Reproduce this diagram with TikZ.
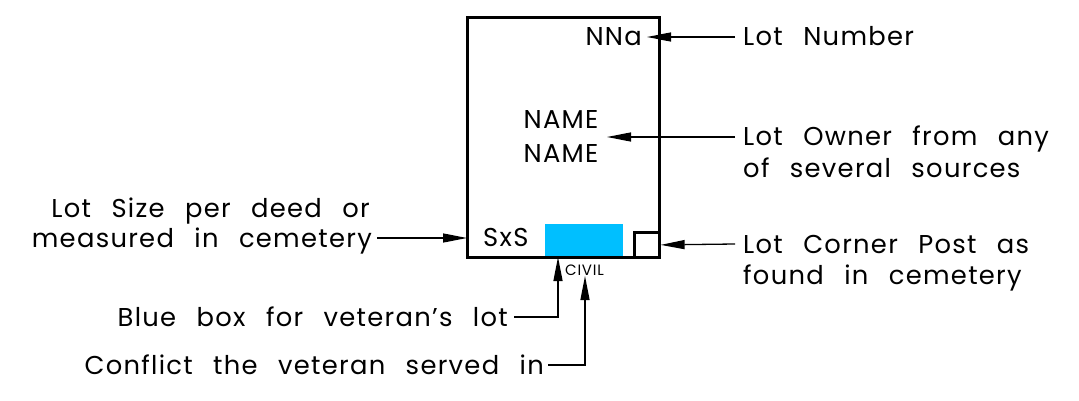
\documentclass[tikz,border=0pt]{standalone}
\usepackage{fontspec}
\usetikzlibrary{arrows.meta}
\newfontfamily\cadfont{Poppins}[LetterSpace=5,WordSpace=2.5]
\definecolor{vetblue}{RGB}{0,191,255}
\tikzset{
  lbl/.style={font=\cadfont\fontsize{25.8}{30}\selectfont, text height=18pt, text depth=0pt, inner ysep=0pt, inner xsep=0pt},
  small/.style={font=\cadfont\fontsize{15}{18}\selectfont, text height=11pt, text depth=0pt, inner sep=0pt},
  leader/.style={line width=1.3pt, -{Triangle[length=24pt,width=9pt]}},
}
\begin{document}
\begin{tikzpicture}[x=1pt,y=-1pt]
\useasboundingbox (0,0) rectangle (1079,401);
% blue box and lot
\fill[vetblue] (545,224) rectangle (623,256);
\node[draw, line width=2.6pt, minimum width=192pt, minimum height=240pt, inner sep=0pt, anchor=north west] (lot) at (466,16) {};
\node[draw, line width=2.4pt, minimum width=25pt, minimum height=25pt, inner sep=0pt, anchor=south east] (post) at (lot.south east) {};
% texts inside
\node[lbl, anchor=east] (nna) at (642,37) {NNa};
\node[lbl] (name1) at (561,120) {NAME};
\node[lbl] (name2) at (561,153) {NAME};
\node[lbl, anchor=west] (sxs) at (483,237) {SxS};
\node[small, anchor=west] (civil) at (565,270) {CIVIL};
% right labels
\node[lbl, anchor=west, inner xsep=8pt] (lotnum) at (735,37) {Lot Number};
\node[lbl, anchor=west, inner xsep=8pt] (own1) at (735,137) {Lot Owner from any};
\node[lbl, anchor=west, inner xsep=8pt] (own2) at (735,168) {of several sources};
\node[lbl, anchor=west, inner xsep=8pt] (cor1) at (735,244) {Lot Corner Post as};
\node[lbl, anchor=west, inner xsep=8pt] (cor2) at (735,275) {found in cemetery};
% left labels
\node[lbl, anchor=east, inner xsep=5pt] (size1) at (375,208) {Lot Size per deed or};
\node[lbl, anchor=east, inner xsep=5pt] (size2) at (377,238) {measured in cemetery};
% bottom labels
\node[lbl, anchor=east, inner xsep=6pt] (blue) at (514,317) {Blue box for veteran’s lot};
\node[lbl, anchor=east, inner xsep=4pt] (conf) at (548,365) {Conflict the veteran served in};
% tips
\coordinate (tipnum) at (647,37);
\coordinate (tipname) at (607,137);
\coordinate (tippost) at (post.east);
\coordinate (tipsize) at (467,238);
\coordinate (tipblue) at (558,257);
\coordinate (tipconf) at (585,276);
% connectors
\draw[leader] (lotnum.west) -- (tipnum);
\draw[leader] (own1.west) -- (tipname);
\draw[leader] (cor1.west) -- (tippost);
\draw[leader] (size2.east) -- (tipsize);
\draw[leader] (blue.east) -| (tipblue);
\draw[leader] (conf.east) -| (tipconf);
\end{tikzpicture}
\end{document}
